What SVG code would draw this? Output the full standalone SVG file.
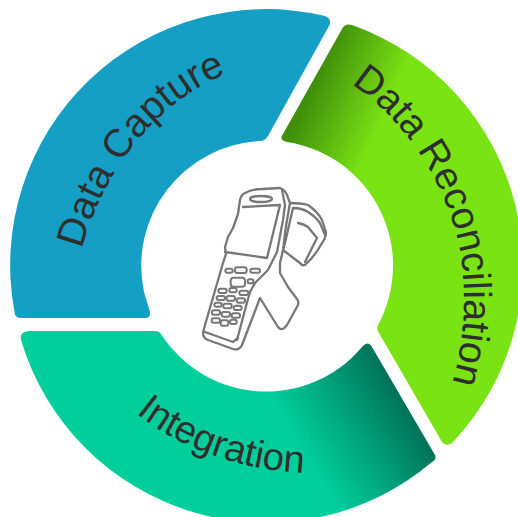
<svg xmlns="http://www.w3.org/2000/svg" width="518" height="517" viewBox="0 0 518 517">
<style>
.lbl{font-family:"Liberation Sans",Arial,sans-serif;fill:#2e2e2e}
.dev{fill:none;stroke:#777;stroke-width:2.3;stroke-linejoin:round;stroke-linecap:round}
</style>
<defs>
<linearGradient id="gGreen" gradientUnits="userSpaceOnUse" x1="313" y1="84" x2="385" y2="116"><stop offset="0" stop-color="#3f8f0a"/><stop offset=".55" stop-color="#62bd10"/><stop offset="1" stop-color="#7ae314"/></linearGradient>
<linearGradient id="gTeal" gradientUnits="userSpaceOnUse" x1="401" y1="400" x2="305" y2="457"><stop offset="0" stop-color="#00745a"/><stop offset=".5" stop-color="#00a47c"/><stop offset="1" stop-color="#00cf9b"/></linearGradient>
<path id="pCapture" d="M82,249 C100,180 150,105 224,75 L240,70"/>
<path id="pRecon" d="M351,84 C415,125 460,210 463,275 C466,315 462,350 451,387 L445,400"/>
<path id="pInteg" d="M136,413 C175,445 235,470 306,473 L320,473"/>
</defs>
<rect width="518" height="517" fill="#fff"/>
<g id="node-capture">
<path fill="#159fc4" d="M21,318 Q15,318 14.5,312 A256,256 0 0 1 323,15.5 Q333,18 329,26 L268,136 Q265,141 260,141 A125,125 0 0 0 144,292 L150,312 Q151,318 145,318 Z"/>
<text class="lbl" font-size="39.5"><textPath href="#pCapture">Data Capture</textPath></text>
</g>
<g id="node-recon">
<path fill="url(#gGreen)" d="M352,25 A256,256 0 0 1 453,442 Q447,448 442,442 L379,333 Q376,329 378,325 A125,125 0 0 0 287,142 L284,141 Q279,139 283,134 L342,29 Q345,23 352,25 Z"/>
<text class="lbl" font-size="39.2"><textPath href="#pRecon">Data Reconciliation</textPath></text>
</g>
<g id="node-integration">
<path fill="url(#gTeal)" d="M29,331 L155,331 Q159,331 161,334 A125,125 0 0 0 362,347 Q368,340 372,347 L435,455 Q437,459 432,462 A256,256 0 0 1 21,340 Q19,332 29,331 Z"/>
<text class="lbl" font-size="38.3"><textPath href="#pInteg">Integration</textPath></text>
</g>
<g id="node-device" class="dev">
<path d="M233,228 L238,214 L240,200 Q241,195 245,193 Q252,189 262,189 L280,188 Q285,190 287,195 L290,203 L286,226 L283,250 L280,263 L280,273 L288,287 L297,299 Q299,301 298,305 L287,325 Q282,332 278,327 L260,298 L242,345 Q239,351 233,349 L208,340 Q203,338 203,333 L205,325 L223,263 L226,254 L225,247 L228,237 Z"/>
<path d="M282,190 L285,205 L283,220 L277,252 L268,270 L255,283 L250,292 L245,310 L237,340"/>
<path d="M243,207 L280,205 L267,258 L225,252"/>
<ellipse cx="261" cy="199" rx="11" ry="3"/>
<path d="M205,332 L233,342 L238,338"/>
<path d="M290,203 Q301,203 308,205 Q318,212 322,220 L326,232 Q326,238 322,243 Q315,256 305,265 Q302,266 300,263 L283,250 L285,243 L293,208 Q302,208 308,212 Q316,217 320,223 L325,235"/>
<path d="M298,223 Q304,224 308,227 L317,238 L305,262"/>
<g transform="translate(200 250) scale(.3333)" stroke-width="6">
<rect x="76" y="56" width="22" height="12" rx="6"/><rect x="105" y="52" width="35" height="17" rx="7"/><rect x="151" y="56" width="29" height="12" rx="6"/>
<rect x="92" y="83" width="43" height="27" rx="9"/><rect x="143" y="88" width="17" height="12" rx="5"/>
<rect x="55" y="116" width="25" height="13" rx="6"/><rect x="88" y="114" width="22" height="13" rx="6"/><rect x="118" y="122" width="27" height="13" rx="6"/>
<rect x="50" y="138" width="25" height="12" rx="6"/><rect x="80" y="138" width="25" height="14" rx="6"/><rect x="110" y="145" width="25" height="13" rx="6"/>
<rect x="43" y="158" width="22" height="12" rx="6"/><rect x="70" y="161" width="25" height="14" rx="6"/><rect x="101" y="167" width="24" height="13" rx="6"/>
<rect x="36" y="181" width="24" height="13" rx="6"/><rect x="65" y="186" width="25" height="14" rx="6"/><rect x="95" y="190" width="25" height="13" rx="6"/>
<rect x="35" y="205" width="25" height="13" rx="6"/><rect x="62" y="211" width="23" height="16" rx="6"/><rect x="90" y="209" width="20" height="13" rx="6"/>
</g>
</g>
<g id="connectors"/>
</svg>
